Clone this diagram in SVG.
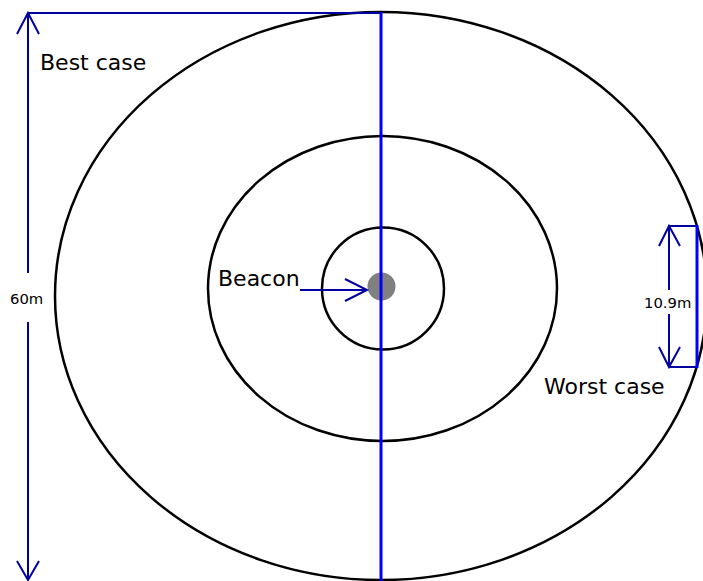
<svg xmlns="http://www.w3.org/2000/svg" width="703" height="581" viewBox="0 0 703 581">
<style>
.ring{fill:none;stroke:#000;stroke-width:2.5}
.dim{fill:none;stroke:#0000a0;stroke-width:2}
.axis{fill:none;stroke:#0000ff;stroke-width:3}
.lbl{font-family:"DejaVu Sans",sans-serif;font-size:22px;fill:#000}
.small{font-family:"DejaVu Sans",sans-serif;font-size:14.8px;fill:#000}
</style>
<rect width="703" height="581" fill="#fff"/>
<g id="outer"><ellipse class="ring" cx="381" cy="296" rx="326" ry="284"/></g>
<g id="middle"><ellipse class="ring" cx="382.5" cy="288.5" rx="174.5" ry="152.5"/></g>
<g id="inner"><circle class="ring" cx="383" cy="288.5" r="61"/></g>
<g id="beacon"><circle cx="381.5" cy="286.5" r="14" fill="#808080"/></g>
<g id="connectors">
<line class="axis" x1="381" y1="12" x2="381" y2="581"/>
<line class="dim" x1="28" y1="13" x2="381" y2="13"/>
<line class="dim" x1="28" y1="13" x2="28" y2="273"/>
<line class="dim" x1="28" y1="322" x2="28" y2="580"/>
<polyline class="dim" points="17,34 28,13 39,34"/>
<polyline class="dim" points="17,561 28,580 39,561"/>
<line class="dim" x1="669" y1="226" x2="697" y2="226"/>
<line class="dim" x1="669" y1="367" x2="697" y2="367"/>
<line class="dim" x1="669" y1="226" x2="669" y2="290"/>
<line class="dim" x1="669" y1="314" x2="669" y2="367"/>
<polyline class="dim" points="659,246 669,226 680,246"/>
<polyline class="dim" points="659,347 669,367 680,347"/>
<line class="axis" x1="697" y1="225" x2="697" y2="368"/>
<line class="dim" x1="300" y1="290" x2="367" y2="290"/>
<polyline class="dim" points="345,279 367,290 345,301"/>
</g>
<g id="labels">
<text class="lbl" x="40" y="70">Best case</text>
<text class="lbl" x="218" y="286">Beacon</text>
<text class="lbl" x="544" y="394">Worst case</text>
<text class="small" x="10" y="304">60m</text>
<text class="small" x="644" y="308">10.9m</text>
</g>
</svg>
